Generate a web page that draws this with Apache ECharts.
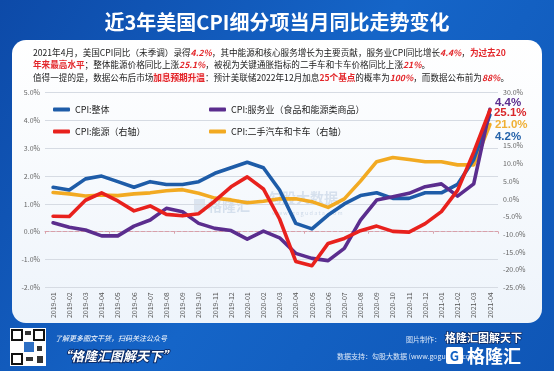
<!DOCTYPE html>
<html>
<head>
<meta charset="utf-8">
<script src="https://cdn.jsdelivr.net/npm/echarts@6/dist/echarts.min.js"></script>
<style>
html,body{margin:0;padding:0;background:#1462c4;}
#c{width:554px;height:371px;}
</style>
</head>
<body>
<div id="c"></div>
<script>
const categories = ['2019-01','2019-02','2019-03','2019-04','2019-05','2019-06','2019-07','2019-08','2019-09','2019-10','2019-11','2019-12',
  '2020-01','2020-02','2020-03','2020-04','2020-05','2020-06','2020-07','2020-08','2020-09','2020-10','2020-11','2020-12',
  '2021-01','2021-02','2021-03','2021-04'];
const cpiTotal    = [1.6,1.5,1.9,2.0,1.8,1.6,1.8,1.7,1.7,1.8,2.1,2.3,2.5,2.3,1.5,0.3,0.1,0.6,1.0,1.3,1.4,1.2,1.2,1.4,1.4,1.7,2.6,4.2];
const cpiServices = [0.32,0.16,0.06,-0.15,-0.15,0.2,0.42,0.84,0.72,0.3,0.12,0.04,-0.27,0.02,-0.22,-0.78,-0.96,-1.04,-0.6,0.42,1.14,1.26,1.38,1.62,1.72,1.28,1.72,4.4];
const cpiEnergy   = [-4.9,-5.0,-0.4,1.7,-0.6,-3.4,-2.0,-4.4,-4.8,-4.2,-0.6,3.4,6.2,2.8,-5.7,-17.7,-18.9,-12.6,-11.2,-9.0,-7.7,-9.2,-9.4,-7.0,-3.6,2.4,13.2,25.1];
const cpiUsedCars = [1.8,1.4,0.8,1.1,0.9,1.4,1.7,2.3,2.6,1.6,0.2,-0.3,-1.1,-0.7,0.0,0.0,-0.8,-2.4,0.0,5.0,10.5,11.7,11.1,10.5,10.5,9.6,9.6,21.0];
const seriesNames = ['CPI:整体','CPI:服务业（食品和能源类商品）','CPI:能源（右轴）','CPI:二手汽车和卡车（右轴）'];
const leftAxisTicks = {min:-2, max:5, interval:1};
const rightAxisTicks = {min:-25, max:30, interval:5};

const FONT = '"Noto Sans CJK SC","Noto Sans",sans-serif';
const C_BLUE='#1e5ca8', C_PURPLE='#5b2d8e', C_RED='#e8211d', C_YELLOW='#f2aa22';

function pct(v){ return v.toFixed(1)+'%'; }

function lineSeries(name, data, color, yIdx, labelColor, off, z){
  return {
    name, type:'line', data, yAxisIndex:yIdx, xAxisIndex:0,
    symbol:'none', z:z,
    lineStyle:{width:3.6, color, cap:'round', join:'round'},
    itemStyle:{color},
    endLabel:{show:true, formatter:p=>pct(p.value), color:labelColor, fontSize:11.5,
      fontWeight:'bold', fontFamily:'"Liberation Sans","Noto Sans",sans-serif', offset:off, distance:4},
    emphasis:{disabled:true}
  };
}

const chart = echarts.init(document.getElementById('c'), null, {renderer:'canvas'});

const richAnno = {
  r:{fill:'#e3262a', fontWeight:'bold', fontStyle:'italic', fontSize:8.6, fontFamily:FONT},
  b:{fill:'#e3262a', fontWeight:'bold', fontSize:8.6, fontFamily:FONT},
  h:{fill:'#e3262a', fontWeight:'bold', fontSize:8.6, fontFamily:FONT, backgroundColor:'#fde3e6'}
};

const option = {
  animation:false,
  backgroundColor:{type:'linear',x:0,y:0,x2:1,y2:1,colorStops:[{offset:0,color:'#0d4aa8'},{offset:0.5,color:'#1565c8'},{offset:1,color:'#0f56b6'}]},
  graphic:[
    {type:'rect', z:-10, shape:{x:12,y:40,width:530,height:283,r:14},
      style:{fill:{type:'linear',x:0,y:0,x2:0,y2:1,colorStops:[{offset:0,color:'#ffffff'},{offset:1,color:'#eef4fb'}]}}},
    {type:'text', z:5, style:{text:'近3年美国CPI细分项当月同比走势变化', x:277, y:22, align:'center', verticalAlign:'middle',
      fill:'#ffffff', font:'bold 20px '+FONT}},
    {type:'text', z:5, style:{x:33, y:53, verticalAlign:'middle', fill:'#222', fontSize:8.6, fontFamily:FONT,
      text:'2021年4月，美国CPI同比（未季调）录得{r|4.2%}，其中能源和核心服务增长为主要贡献，服务业CPI同比增长{r|4.4%}，{b|为过去20}',
      rich:richAnno}},
    {type:'text', z:5, style:{x:33, y:64.5, verticalAlign:'middle', fill:'#222', fontSize:8.6, fontFamily:FONT,
      text:'{b|年来最高水平}；整体能源价格同比上涨{r|25.1%}，被视为关键通胀指标的二手车和卡车价格同比上涨{r|21%}。',
      rich:richAnno}},
    {type:'text', z:5, style:{x:33, y:77.5, verticalAlign:'middle', fill:'#222', fontSize:8.6, fontFamily:FONT,
      text:'值得一提的是，数据公布后市场{h|加息预期升温}：预计美联储2022年12月加息{b|25个基点}的概率为{r|100%}，而数据公布前为{r|88%}。',
      rich:richAnno}},
    // watermark
    {type:'text', z:-5, style:{text:'格隆汇', x:208, y:206, verticalAlign:'middle', fill:'rgba(120,150,190,0.25)', font:'bold 14px '+FONT}},
    {type:'rect', z:-5, shape:{x:194,y:199,width:11,height:13}, style:{fill:'rgba(120,150,190,0.2)'}},
    {type:'text', z:-5, style:{text:'勾股大数据', x:268, y:198, verticalAlign:'middle', fill:'rgba(120,150,190,0.25)', font:'bold 14px '+FONT}},
    {type:'text', z:-5, style:{text:'w w w . g o g u d a t a . c o m', x:272, y:213, verticalAlign:'middle', fill:'rgba(120,150,190,0.3)', font:'5.5px '+FONT}},
    // footer
    {type:'rect', z:5, shape:{x:10,y:328,width:36,height:38}, style:{fill:'#ffffff'}},
    {type:'rect', z:6, shape:{x:12,y:330,width:10,height:10}, style:{fill:'none', stroke:'#111', lineWidth:2}},
    {type:'rect', z:6, shape:{x:34,y:330,width:10,height:10}, style:{fill:'none', stroke:'#111', lineWidth:2}},
    {type:'rect', z:6, shape:{x:12,y:354,width:10,height:10}, style:{fill:'none', stroke:'#111', lineWidth:2}},
    {type:'rect', z:6, shape:{x:24,y:342,width:10,height:10}, style:{fill:'#2d6fc4'}},
    {type:'rect', z:6, shape:{x:25,y:331,width:6,height:4}, style:{fill:'#333'}},
    {type:'rect', z:6, shape:{x:37,y:346,width:5,height:5}, style:{fill:'#333'}},
    {type:'rect', z:6, shape:{x:26,y:357,width:7,height:4}, style:{fill:'#333'}},
    {type:'rect', z:6, shape:{x:37,y:356,width:6,height:7}, style:{fill:'#333'}},
    {type:'text', z:5, style:{text:'了解更多图文干货，扫码关注公众号', x:55, y:338, verticalAlign:'middle', fill:'#ffffff', font:'italic 7px '+FONT}},
    {type:'text', z:5, style:{text:'“格隆汇图解天下”', x:58, y:356, verticalAlign:'middle', fill:'#ffffff', font:'italic bold 13px '+FONT, stroke:'#0b2a66', lineWidth:2}},
    {type:'text', z:5, style:{text:'图片制作：', x:406, y:339, verticalAlign:'middle', fill:'#dce8f8', font:'7px '+FONT}},
    {type:'text', z:5, style:{text:'格隆汇图解天下', x:445, y:338, verticalAlign:'middle', fill:'#ffffff', font:'bold 11px '+FONT, stroke:'#0b2a66', lineWidth:1.5}},
    {type:'text', z:5, style:{text:'数据支持：勾股大数据 (www.gogudata.com)', x:337, y:356, verticalAlign:'middle', fill:'#dce8f8', font:'7px '+FONT}},
    {type:'rect', z:7, shape:{x:446,y:347,width:17,height:17,r:2}, style:{fill:'#ffffff'}},
    {type:'text', z:8, style:{text:'G', x:454.5, y:356, align:'center', verticalAlign:'middle', fill:'#1462c4', font:'bold 13px '+FONT}},
    {type:'text', z:7, style:{text:'格隆汇', x:467, y:356, verticalAlign:'middle', fill:'#ffffff', font:'bold 18px '+FONT}}
  ],
  legend:[
    {data:[seriesNames[0], seriesNames[2]], orient:'vertical', left:48, top:100, itemWidth:17, itemHeight:4, itemGap:13,
      icon:'roundRect', textStyle:{fontSize:9, color:'#222', fontFamily:FONT}, selectedMode:false},
    {data:[seriesNames[1], seriesNames[3]], orient:'vertical', left:204, top:100, itemWidth:17, itemHeight:4, itemGap:13,
      icon:'roundRect', textStyle:{fontSize:9, color:'#222', fontFamily:FONT}, selectedMode:false}
  ],
  grid:{left:45, right:56, top:92.7, bottom:83.7, containLabel:false},
  xAxis:[
    {type:'category', data:categories, boundaryGap:true, position:'bottom',
      axisLine:{show:false, onZero:false}, axisTick:{show:false},
      axisLabel:{rotate:90, fontSize:7, color:'#555', fontFamily:FONT, margin:5, interval:0}},
    {type:'category', data:categories, boundaryGap:true, position:'bottom',
      axisLine:{show:true, onZero:true, onZeroAxisIndex:0, lineStyle:{color:'#d9a0aa', type:'dashed', width:1}},
      axisTick:{show:true, length:2, lineStyle:{color:'#d9a0aa'}}, axisLabel:{show:false}}
  ],
  yAxis:[
    {type:'value', position:'left', min:leftAxisTicks.min, max:leftAxisTicks.max, interval:leftAxisTicks.interval,
      axisLine:{show:false}, axisTick:{show:false},
      splitLine:{lineStyle:{color:'#d6dbe3', width:1}},
      axisLabel:{formatter:v=>pct(v), fontSize:7, color:'#666', fontFamily:FONT, margin:5}},
    {type:'value', position:'right', min:rightAxisTicks.min, max:rightAxisTicks.max, interval:rightAxisTicks.interval,
      axisLine:{show:false}, axisTick:{show:false}, splitLine:{show:false},
      axisLabel:{formatter:v=>(v===20||v===25)?'':pct(v), fontSize:7, color:'#666', fontFamily:FONT, margin:5}}
  ],
  series:[
    lineSeries(seriesNames[3], cpiUsedCars, C_YELLOW, 1, '#f0b035', [1,0], 2),
    lineSeries(seriesNames[0], cpiTotal, C_BLUE, 0, '#2563aa', [1,21.5], 3),
    lineSeries(seriesNames[1], cpiServices, C_PURPLE, 0, '#5b2d8e', [1,-7], 4),
    lineSeries(seriesNames[2], cpiEnergy, C_RED, 1, '#d9262a', [0,3], 5)
  ]
};
chart.setOption(option);
</script>
</body>
</html>
